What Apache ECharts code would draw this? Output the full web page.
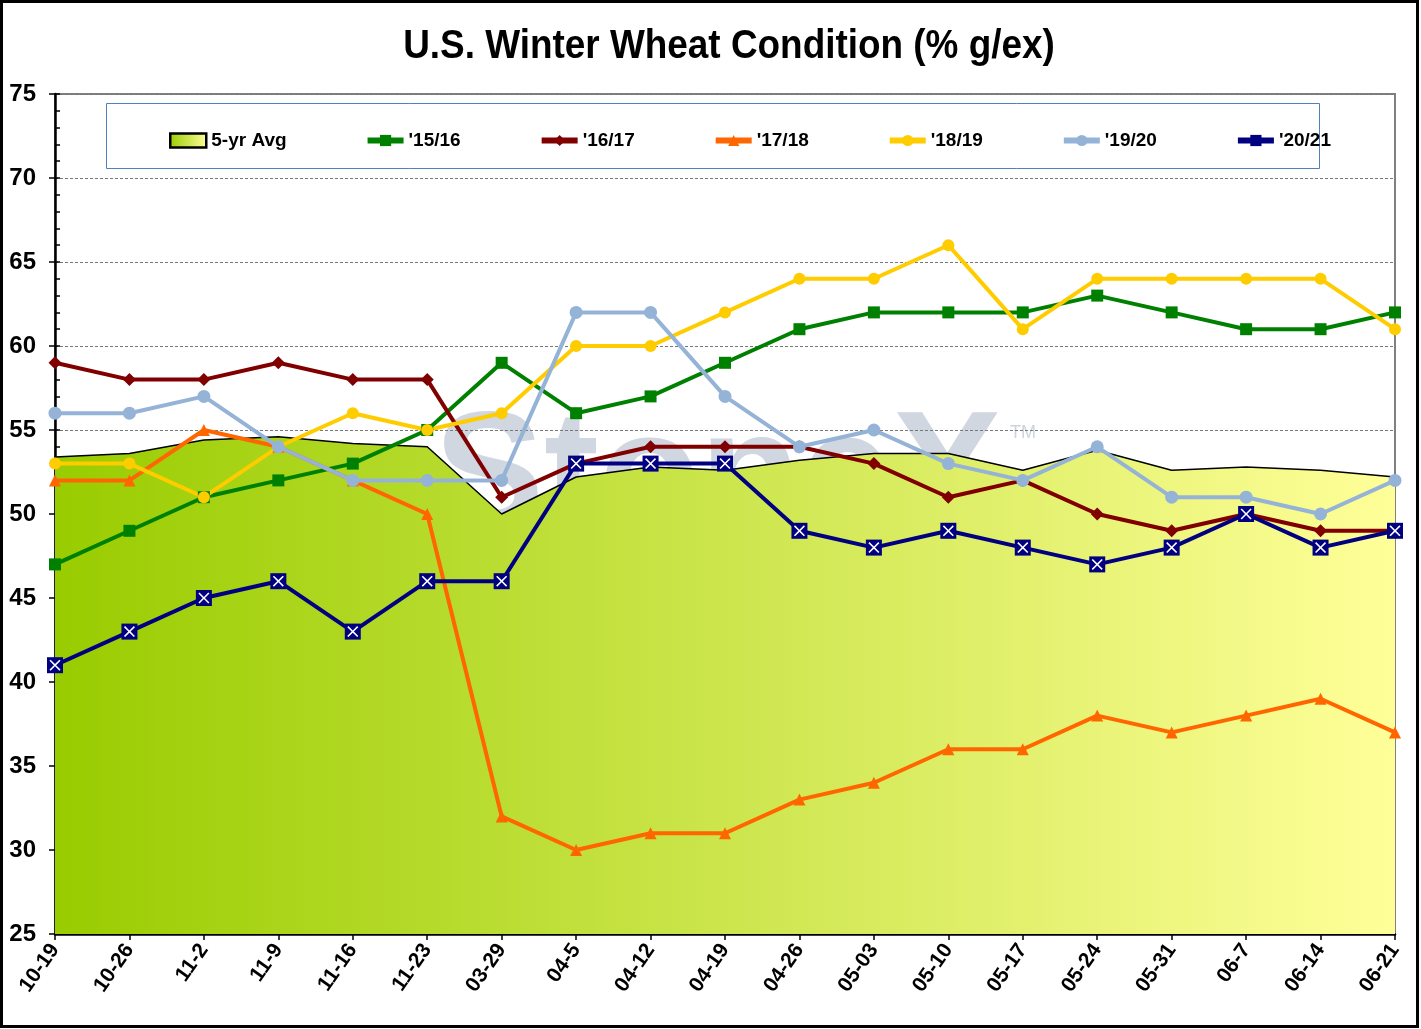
<!DOCTYPE html>
<html>
<head>
<meta charset="utf-8">
<script src="https://cdn.jsdelivr.net/npm/echarts@6/dist/echarts.min.js"></script>
<style>
  html, body { margin: 0; padding: 0; background: #fff; }
  #chart { width: 1421px; height: 1029px; }
</style>
</head>
<body>
<div id="chart"></div>
<script>
// ===== data =====
const weeks = ['10-19', '10-26', '11-2', '11-9', '11-16', '11-23', '03-29', '04-5', '04-12', '04-19',
               '04-26', '05-03', '05-10', '05-17', '05-24', '05-31', '06-7', '06-14', '06-21'];
const avg5yr = [53.4, 53.6, 54.4, 54.6, 54.2, 54.0, 50.0, 52.2, 52.8, 52.6, 53.2, 53.6, 53.6, 52.6, 53.8, 52.6, 52.8, 52.6, 52.2];
const y1516 = [47, 49, 51, 52, 53, 55, 59, 56, 57, 59, 61, 62, 62, 62, 63, 62, 61, 61, 62];
const y1617 = [59, 58, 58, 59, 58, 58, 51, 53, 54, 54, 54, 53, 51, 52, 50, 49, 50, 49, 49];
const y1718 = [52, 52, 55, 54, 52, 50, 32, 30, 31, 31, 33, 34, 36, 36, 38, 37, 38, 39, 37];
const y1819 = [53, 53, 51, 54, 56, 55, 56, 60, 60, 62, 64, 64, 66, 61, 64, 64, 64, 64, 61];
const y1920 = [56, 56, 57, 54, 52, 52, 52, 62, 62, 57, 54, 55, 53, 52, 54, 51, 51, 50, 52];
const y2021 = [41, 43, 45, 46, 43, 46, 46, 53, 53, 53, 49, 48, 49, 48, 47, 48, 50, 48, 49];
const yTicks = [25, 30, 35, 40, 45, 50, 55, 60, 65, 70, 75];

const chart = echarts.init(document.getElementById('chart'));
const FONT = 'Liberation Sans, Arial, sans-serif';

const areaGrad = new echarts.graphic.LinearGradient(0, 0, 1, 0, [
    { offset: 0, color: '#99cc00' },
    { offset: 1, color: '#ffff99' }
]);
const xMark = 'path://M0,1 L1,0 L5,4 L9,0 L10,1 L6,5 L10,9 L9,10 L5,6 L1,10 L0,9 L4,5 Z';

function lineSeries(name, data, color, symbol, size) {
    return {
        name, type: 'line', data, symbol, symbolSize: size,
        lineStyle: { color, width: 4 },
        itemStyle: { color },
        z: 3
    };
}

const legendLine = { width: 6 };

chart.setOption({
    backgroundColor: '#fff',
    animation: false,
    graphic: [
        { type: 'rect', shape: { x: 1.5, y: 1.5, width: 1416, height: 1025 },
          style: { fill: 'none', stroke: '#000', lineWidth: 3 }, z: 100 },
        { type: 'rect', shape: { x: 106.5, y: 103.5, width: 1213, height: 65 },
          style: { fill: '#fff', stroke: '#4f81bd', lineWidth: 1 }, z: 1 },
        // title, slightly condensed like the original
        { type: 'text', x: 729, y: 47, scaleX: 0.9, z: 10,
          style: { text: 'U.S. Winter Wheat Condition (% g/ex)', fontFamily: FONT, fontSize: 41, fontWeight: 'bold',
                   fill: '#000', align: 'center', verticalAlign: 'middle' } },
        // watermark
        { type: 'text', left: 434, top: 398, z: 0,
          style: { text: 'StoneX', fontFamily: FONT, fontSize: 165, fontWeight: 'bold', fill: '#d0d7e1' } },
        { type: 'text', left: 1010, top: 424, z: 0,
          style: { text: 'TM', fontFamily: FONT, fontSize: 18, fill: '#cdd4de' } }
    ],
    legend: {
        left: 164, top: 126, itemWidth: 36, itemHeight: 14, itemGap: 78,
        textStyle: { fontFamily: FONT, fontSize: 19, fontWeight: 'bold', color: '#000' },
        data: [
            { name: '5-yr Avg', icon: 'rect', itemStyle: { color: areaGrad, borderColor: '#000', borderWidth: 2.5 } },
            { name: "'15/16", lineStyle: legendLine },
            { name: "'16/17", lineStyle: legendLine },
            { name: "'17/18", lineStyle: legendLine },
            { name: "'18/19", lineStyle: legendLine },
            { name: "'19/20", lineStyle: legendLine },
            { name: "'20/21", lineStyle: legendLine }
        ],
        z: 5
    },
    grid: { left: 55, right: 26, top: 94, bottom: 95, show: true, borderColor: '#808080', borderWidth: 2 },
    xAxis: {
        type: 'category', data: weeks, boundaryGap: false,
        axisLine: { lineStyle: { color: '#000', width: 2.5 } },
        axisTick: { show: true, length: 6, lineStyle: { color: '#000', width: 1.5 } },
        axisLabel: { rotate: 55, margin: 12, fontFamily: FONT, fontSize: 21, fontWeight: 'bold', color: '#000', interval: 0 },
        splitLine: { show: false }
    },
    yAxis: [{
        type: 'value', min: yTicks[0], max: yTicks[yTicks.length - 1], interval: 5,
        axisLine: { show: true, lineStyle: { color: '#000', width: 2.5 } },
        axisTick: { show: true, length: 6, lineStyle: { color: '#000', width: 1.5 } },
        axisLabel: { margin: 19, fontFamily: FONT, fontSize: 24, fontWeight: 'bold', color: '#000' },
        splitLine: { show: true, lineStyle: { color: '#777', type: [3, 2], width: 1 } }
    }, {
        type: 'value', min: 25, max: 75, interval: 1, position: 'left',
        axisLine: { show: false },
        axisTick: { show: true, inside: true, length: 5, lineStyle: { color: '#000', width: 1.5 } },
        axisLabel: { show: false },
        splitLine: { show: false }
    }],
    series: [
        {
            name: '5-yr Avg', type: 'line', data: avg5yr, symbol: 'none', z: 2,
            lineStyle: { color: '#000', width: 1.5 },
            itemStyle: { color: areaGrad, borderColor: '#000' },
            areaStyle: { color: areaGrad, opacity: 1, origin: 'start' }
        },
        lineSeries("'15/16", y1516, '#008000', 'rect', 12),
        lineSeries("'16/17", y1617, '#800000', 'diamond', 13),
        lineSeries("'17/18", y1718, '#ff6600', 'triangle', 12),
        lineSeries("'18/19", y1819, '#ffcc00', 'circle', 12),
        lineSeries("'19/20", y1920, '#95b3d7', 'circle', 13),
        lineSeries("'20/21", y2021, '#000080', 'rect', 16),
        {
            // white X drawn on top of the '20/21 squares
            name: 'x-mark', type: 'line', data: y2021, symbol: xMark, symbolSize: 11,
            lineStyle: { width: 0, opacity: 0 }, itemStyle: { color: '#fff' }, z: 4, silent: true
        }
    ]
});
</script>
</body>
</html>
